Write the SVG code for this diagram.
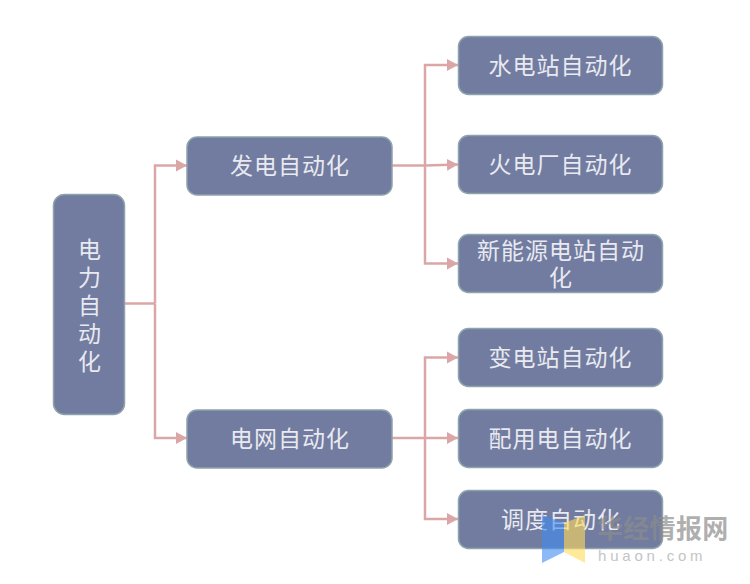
<svg xmlns="http://www.w3.org/2000/svg" width="750" height="584" viewBox="0 0 750 584">
<defs>
<marker id="arrow" markerUnits="userSpaceOnUse" markerWidth="12" markerHeight="14" refX="11" refY="7" orient="auto"><path d="M0,1 L11,7 L0,13 Z" fill="#daa6a6"/></marker>
</defs>
<style>
.box{fill:#717ca0;stroke:#8ea3ac;stroke-width:1.5}
.t{font-family:"Noto Sans CJK SC","Liberation Sans",sans-serif;font-size:23px;fill:#e9e9f0;text-anchor:middle;letter-spacing:1px}
.c{fill:none;stroke:#daa6a6;stroke-width:2.500}
</style>
<rect width="750" height="584" fill="#ffffff"/>
<g id="connectors">
<path class="c" d="M125,303.500 H155"/>
<path class="c" marker-end="url(#arrow)" d="M155,303.500 V165.500 H187"/>
<path class="c" marker-end="url(#arrow)" d="M155,303.500 V438 H187"/>
<path class="c" d="M392,165.500 H425"/>
<path class="c" marker-end="url(#arrow)" d="M425,165.500 V65 H458"/>
<path class="c" marker-end="url(#arrow)" d="M425,165.500 L458,164.500"/>
<path class="c" marker-end="url(#arrow)" d="M425,165.500 V263.500 H458"/>
<path class="c" d="M392,438 H425"/>
<path class="c" marker-end="url(#arrow)" d="M425,438 V357.500 H458"/>
<path class="c" marker-end="url(#arrow)" d="M425,438 H458"/>
<path class="c" marker-end="url(#arrow)" d="M425,438 V519 H458"/>
</g>
<g id="n-root"><rect class="box" x="53.500" y="194.500" width="71" height="220" rx="11"/>
<text class="t"><tspan x="90" y="258">电</tspan><tspan x="90" y="286">力</tspan><tspan x="90" y="314">自</tspan><tspan x="90" y="342">动</tspan><tspan x="90" y="370">化</tspan></text></g>
<g id="n-gen"><rect class="box" x="187" y="137" width="205" height="58" rx="10"/><text class="t" x="290" y="174">发电自动化</text></g>
<g id="n-grid"><rect class="box" x="187" y="410" width="205" height="58" rx="10"/><text class="t" x="290" y="447">电网自动化</text></g>
<g id="n-hydro"><rect class="box" x="458.500" y="36.500" width="204" height="58" rx="10"/><text class="t" x="560.500" y="74">水电站自动化</text></g>
<g id="n-thermal"><rect class="box" x="458.500" y="135.500" width="204" height="58" rx="10"/><text class="t" x="560.500" y="173">火电厂自动化</text></g>
<g id="n-newenergy"><rect class="box" x="458.500" y="234.500" width="204" height="58" rx="10"/><text class="t"><tspan x="561" y="259">新能源电站自动</tspan><tspan x="561" y="286">化</tspan></text></g>
<g id="n-sub"><rect class="box" x="458.500" y="328.500" width="204" height="58" rx="10"/><text class="t" x="560.500" y="366">变电站自动化</text></g>
<g id="n-dist"><rect class="box" x="458.500" y="409.500" width="204" height="58" rx="10"/><text class="t" x="560.500" y="447">配用电自动化</text></g>
<g id="n-dispatch"><rect class="box" x="458.500" y="490.500" width="204" height="58" rx="10"/><text class="t" x="561" y="528">调度自动化</text></g>
<g id="watermark">
<polygon points="542,515 564,523 564,552 542,563" fill="#3f8cf2" fill-opacity="0.6"/>
<polygon points="564,523 585,515 585,563 564,552" fill="#ffdc5a" fill-opacity="0.6"/>
<text x="597" y="538" font-family="'Noto Sans CJK SC',sans-serif" font-size="26" letter-spacing="0.300" font-weight="700" fill="#8c8c8c" fill-opacity="0.7">华经情报网</text>
<text x="598" y="561" font-family="'Liberation Sans',sans-serif" font-size="15" fill="#c4c4c4" letter-spacing="3.800">huaon.com</text>
</g>
</svg>
